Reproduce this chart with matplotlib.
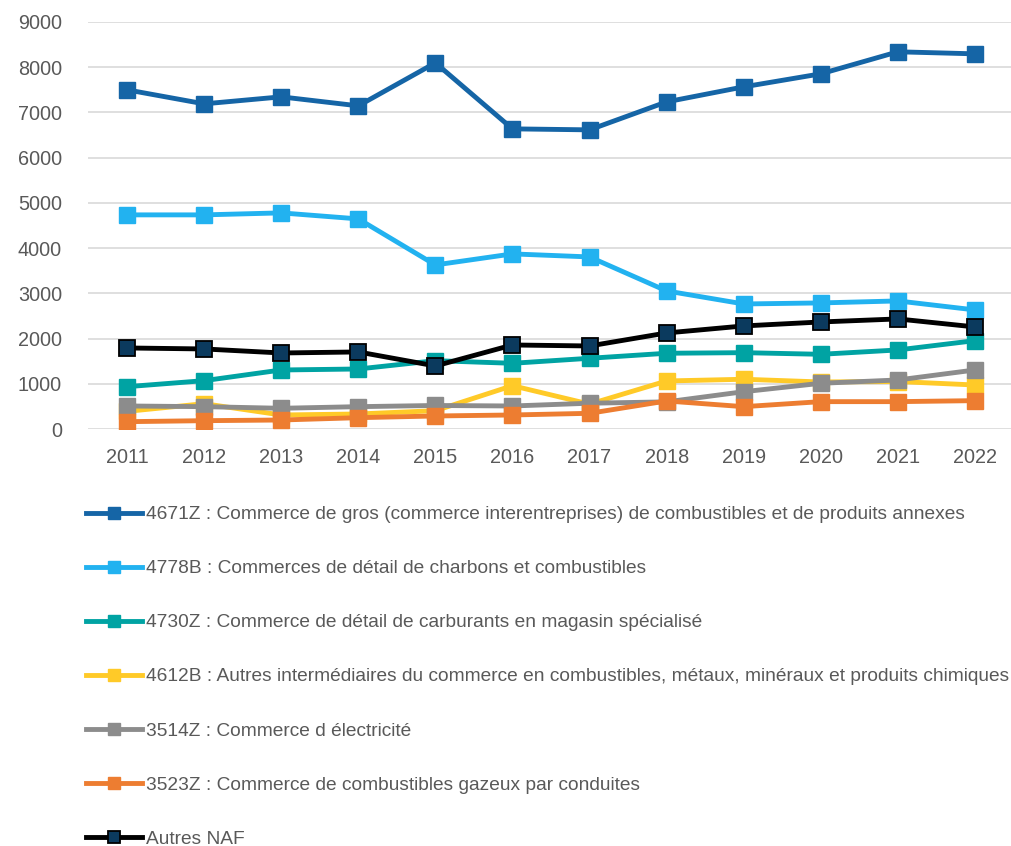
import matplotlib.pyplot as plt
from matplotlib.lines import Line2D

years = list(range(2011, 2023))

naf_4671z = [7500, 7190, 7345, 7146, 8097, 6637, 6615, 7234, 7566, 7854, 8341, 8296]
naf_4778b = [4735, 4735, 4779, 4646, 3628, 3872, 3805, 3053, 2765, 2788, 2832, 2633]
naf_4730z = [936, 1069, 1305, 1327, 1511, 1453, 1564, 1675, 1688, 1652, 1748, 1954]
naf_4612b = [390, 560, 310, 332, 405, 958, 550, 1062, 1100, 1040, 1050, 973]
naf_3514z = [509, 494, 458, 494, 520, 509, 570, 600, 825, 1011, 1084, 1305]
naf_3523z = [162, 184, 199, 250, 288, 310, 347, 620, 494, 605, 605, 627]
autres_naf = [1792, 1770, 1681, 1704, 1394, 1858, 1836, 2124, 2279, 2367, 2434, 2257]

labels = [
    "4671Z : Commerce de gros (commerce interentreprises) de combustibles et de produits annexes",
    "4778B : Commerces de détail de charbons et combustibles",
    "4730Z : Commerce de détail de carburants en magasin spécialisé",
    "4612B : Autres intermédiaires du commerce en combustibles, métaux, minéraux et produits chimiques",
    "3514Z : Commerce d électricité",
    "3523Z : Commerce de combustibles gazeux par conduites",
    "Autres NAF",
]
series = [naf_4671z, naf_4778b, naf_4730z, naf_4612b, naf_3514z, naf_3523z, autres_naf]
colors = ["#1565A6", "#22B2F0", "#00A3A3", "#FFCA28", "#8C8C8C", "#ED7D31", "#000000"]

plt.rcParams['font.family'] = ['Liberation Sans', 'DejaVu Sans']

fig = plt.figure(figsize=(10.12, 8.46), dpi=100)
ax = fig.add_axes([88.5 / 1012, 1 - 429 / 846, (1013.5 - 88.5) / 1012, (429 - 22) / 846])

# bottom series drawn first, black line on top
order = [5, 4, 3, 2, 1, 0, 6]
for i in order:
    if i == 6:
        ax.plot(years, series[i], color="black", lw=3.5, marker="s", ms=11,
                mfc="#0B3A5E", mec="black", mew=1.3, zorder=3 + i)
    else:
        ax.plot(years, series[i], color=colors[i], lw=3.5, marker="s", ms=11,
                mfc=colors[i], mec=colors[i], zorder=3 + i)

ax.set_xlim(2010.5, 2022.5)
ax.set_ylim(0, 9000)
ax.set_yticks(range(0, 9001, 1000))
ax.set_xticks(years)
ax.grid(axis="y", color="#D9D9D9", lw=1.2)
ax.set_axisbelow(True)
for s in ax.spines.values():
    s.set_visible(False)
ax.tick_params(length=0, labelsize=14.3, colors="#595959")
ax.tick_params(axis="y", pad=19)
ax.tick_params(axis="x", pad=14)

handles = []
for i in range(7):
    if i == 6:
        h = Line2D([], [], color="black", lw=3.5, marker="s", ms=8,
                   mfc="#0B3A5E", mec="black", mew=1.3)
    else:
        h = Line2D([], [], color=colors[i], lw=3.5, marker="s", ms=8,
                   mfc=colors[i], mec=colors[i])
    handles.append(h)

leg = fig.legend(handles, labels, loc="upper left", bbox_to_anchor=(86 / 1012, 1 - 506 / 846),
                 frameon=False, fontsize=13.8, labelspacing=1.91, handlelength=2.92,
                 handletextpad=0.2, borderaxespad=0, borderpad=0)
for t in leg.get_texts():
    t.set_color("#595959")

fig.savefig("out.png", dpi=100)
